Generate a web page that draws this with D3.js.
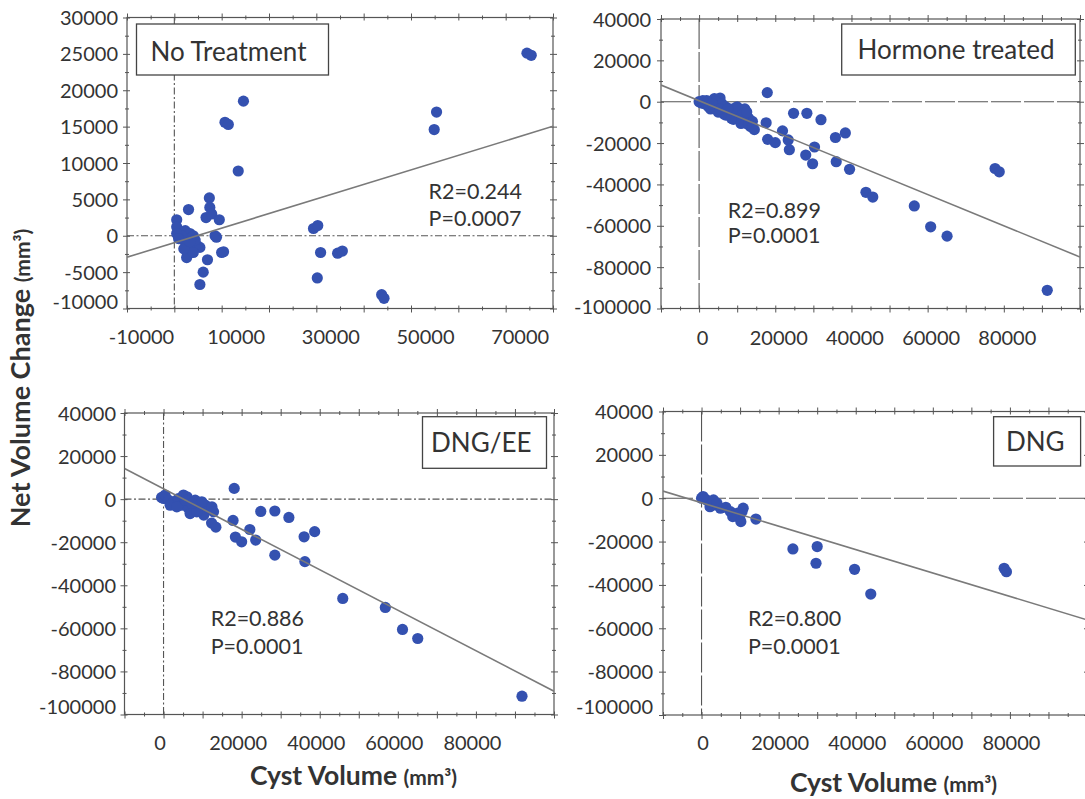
<!DOCTYPE html>
<html><head><meta charset="utf-8">
<script src="https://cdn.jsdelivr.net/npm/d3@7"></script>
<style>
body{margin:0;background:#fff}
svg{display:block}
text{font-family:Lato,"Open Sans",sans-serif;fill:#333}
</style>
</head><body>
<svg id="c" width="1085" height="799"></svg>
<script>
// ---------------- data ----------------
const panelTitles = ["No Treatment", "Hormone treated", "DNG/EE", "DNG"];
const statR2 = ["R2=0.244", "R2=0.899", "R2=0.886", "R2=0.800"];
const statP  = ["P=0.0007", "P=0.0001", "P=0.0001", "P=0.0001"];
const xDomains = [[-10000, 80000], [-10000, 100000], [-10000, 100000], [-10000, 100000]];
const yDomains = [[-10000, 30000], [-100000, 40000], [-100000, 40000], [-100000, 40000]];
const xTickLabelsNoTreat = [-10000, 10000, 30000, 50000, 70000];
const xTickLabels = [0, 20000, 40000, 60000, 80000];
const yTickLabelsNoTreat = [30000, 25000, 20000, 15000, 10000, 5000, 0, -5000, -10000];
const yTickLabels = [40000, 20000, 0, -20000, -40000, -60000, -80000, -100000];
const fitSlopes = [0.2, -0.756, -0.94, -0.54];
const fitIntercepts = [-950, 500, 4800, -2100];

const noTreatment = [
  [14600,18500],[10700,15600],[11400,15300],[13500,8900],[7400,5200],[7500,3900],
  [6700,2500],[7900,3000],[9500,2200],[3000,3600],[500,2200],[8600,0],[8900,-200],
  [10000,-2300],[10400,-2200],[7000,-3300],[6100,-5000],[5400,-6700],
  [500,1200],[1200,300],[2300,700],[3300,300],[4000,0],[1900,-600],[2600,-1100],
  [3700,-1600],[4700,-1300],[5400,-1600],[3000,-2500],[2600,-3000],[4000,-2300],
  [1600,0],[500,300],[900,-400],[4400,-600],[2000,-1800],[3300,-800],
  [74500,25100],[75400,24800],[55400,17000],[54900,14600],[29400,1000],[30300,1400],
  [30900,-2300],[34500,-2400],[35500,-2100],[30200,-5800],[43800,-8100],[44300,-8600]
];
const hormoneTreated = [
  [0,0],[500,-500],[1000,-800],[1500,-300],[2000,-1500],[2500,-1000],[3000,-2000],
  [3500,500],[4000,1500],[4500,-2500],[5000,-1500],[5500,1800],[6000,-3000],
  [6500,-4000],[7000,-2500],[7500,-5000],[8000,-3500],[8500,-6000],[9000,-4500],
  [9500,-7000],[10000,-5500],[10500,-8000],[11000,-4000],[11500,-9000],[12000,-6500],
  [12500,-10500],[13000,-8000],[13500,-12000],[14000,-9500],[14500,-13500],
  [3000,-3500],[5000,-5000],[7000,-6500],[9000,-8500],[11000,-10500],[2000,500],
  [4500,0],[10000,-2500],[12000,-3500],
  [1000,500],[2500,-2500],[4000,-3000],[6000,-1000],[8000,-5500],[9500,-3000],
  [11500,-6000],[13000,-11000],[6500,-6000],[8500,-8000],[12500,-5000],[14000,-12000],
  [3500,-1000],[5500,-3500],[7500,-3500],
  [17900,4400],[24800,-5600],[28300,-5600],[32000,-8700],[17600,-10200],[18000,-18200],
  [20000,-19800],[21900,-14100],[23400,-18500],[23700,-23200],[28000,-25800],
  [29800,-30000],[30300,-21900],[35800,-17300],[38400,-15100],[36000,-29000],
  [39500,-32700],[43800,-43800],[45600,-46100],[56500,-50400],[60800,-60500],
  [65100,-65000],[77700,-32300],[78800,-33900],[91400,-91200]
];
const dngEE = [
  [-500,800],[0,300],[400,1900],[1300,-500],[2600,-1200],[3800,300],[5100,1900],
  [6000,1100],[4700,-2800],[6400,-4300],[6800,-6700],[7700,-3600],[9000,-2000],
  [9400,-5100],[10300,-7400],[10700,-2800],[11500,-4300],[12400,-3600],[12800,-5900],
  [1700,-2800],[3400,-3600],[8100,-500],[9800,-1200],[5600,-500],[8500,-5900],[7300,-2000],
  [91800,-91500],[65100,-64700],[61200,-60500],[56800,-50300],[45900,-46100],
  [36200,-29000],[36000,-17500],[38700,-15100],[32100,-8500],[24900,-5700],
  [28500,-5500],[28500,-26000],[18100,5000],[17800,-9900],[18400,-17600],
  [20000,-19800],[22100,-14100],[23600,-19000],[12300,-11100],[13400,-13000]
];
const dng = [
  [0,0],[1300,-800],[2700,-1600],[3600,-3100],[2200,-3900],[4900,-4600],[6300,-4200],
  [7500,-6200],[8500,-7700],[9900,-9200],[10500,-6200],[10800,-4600],[9400,-6900],
  [8100,-8500],[10200,-10800],[400,800],[3100,-800],[4000,-2300],
  [14100,-9600],[23700,-23400],[30000,-22300],[29700,-30000],[39700,-32800],
  [43900,-44200],[78500,-32300],[79100,-33900]
];

// ---------------- layout ----------------
const series = [noTreatment, hormoneTreated, dngEE, dng];
const xLabelSets = [xTickLabelsNoTreat, xTickLabels, xTickLabels, xTickLabels];
const yLabelSets = [yTickLabelsNoTreat, yTickLabels, yTickLabels, yTickLabels];
const layout = [
  {x0:127, x1:553, y0:17.5, y1:308.5,
   xMaj:10000, yMaj:5000, xLabDx:14, xLabY:336.7, yLabX:118, botShift:-7,
   box:[136.5,24,192,51], tc:[228.5,51.7], st:[428.6,191.7,218.3], dash:"7,2.5,2,2.5"},
  {x0:661, x1:1080, y0:19, y1:308.5,
   xMaj:10000, yMaj:20000, xLabDx:3, xLabY:337.7, yLabX:651, botShift:-2,
   box:[841.7,24,233.6,51], tc:[956,50], st:[727.7,210,235], dash:"30,3"},
  {x0:124.5, x1:554, y0:413, y1:714.5,
   xMaj:10000, yMaj:20000, xLabDx:-4, xLabY:743.3, yLabX:116, botShift:-8,
   box:[422.5,416.7,124,51.6], tc:[481.3,443.3], st:[210.7,618.3,646.7], dash:"7,2.5,2,2.5"},
  {x0:663, x1:1087, y0:411.5, y1:715,
   xMaj:10000, yMaj:20000, xLabDx:1, xLabY:743, yLabX:653, botShift:-9,
   box:[993.6,416.7,87,49.3], tc:[1035.3,441.7], st:[747.9,618.3,646.7], dash:"30,3"}
];

const svg = d3.select("#c");
const fmt = d => String(d);
const AX = "#555";

function range(a, b, step){ const r=[]; for(let v=a; v<=b+1e-9; v+=step) r.push(v); return r; }

function crossTicks(g, side, scale, vals, outLen, inLen){
  let a1, a2;
  if (side==="bottom"){ a1=d3.axisBottom(scale); a2=d3.axisTop(scale); }
  if (side==="top"){ a1=d3.axisTop(scale); a2=d3.axisBottom(scale); }
  if (side==="left"){ a1=d3.axisLeft(scale); a2=d3.axisRight(scale); }
  if (side==="right"){ a1=d3.axisRight(scale); a2=d3.axisLeft(scale); }
  [[a1,outLen],[a2,inLen]].forEach(([a,len])=>{
    const s = g.append("g").call(a.tickValues(vals).tickSize(len).tickFormat(""));
    s.select(".domain").remove();
    s.selectAll("line").attr("stroke", AX).attr("stroke-width", 1);
  });
}

layout.forEach((L, i) => {
  const x = d3.scaleLinear().domain(xDomains[i]).range([L.x0, L.x1]);
  const y = d3.scaleLinear().domain(yDomains[i]).range([L.y1, L.y0]);
  const g = svg.append("g");
  const clipId = "clip" + i;
  svg.append("clipPath").attr("id", clipId).append("rect")
     .attr("x", L.x0).attr("y", L.y0).attr("width", L.x1 - L.x0).attr("height", L.y1 - L.y0);

  // reference zero lines
  g.append("line").attr("x1", L.x0).attr("x2", L.x1).attr("y1", y(0)).attr("y2", y(0))
   .attr("stroke", "#555").attr("stroke-width", 1.1).attr("stroke-dasharray", L.dash);
  g.append("line").attr("x1", x(0)).attr("x2", x(0)).attr("y1", L.y0).attr("y2", L.y1)
   .attr("stroke", "#555").attr("stroke-width", 1.1).attr("stroke-dasharray", L.dash);

  // frame
  g.append("rect").attr("x", L.x0).attr("y", L.y0).attr("width", L.x1 - L.x0).attr("height", L.y1 - L.y0)
   .attr("fill", "none").attr("stroke", AX).attr("stroke-width", 1.2);

  // ticks on all sides
  const [xa, xb] = xDomains[i], [ya, yb] = yDomains[i];
  const xMajor = range(xa, xb, L.xMaj), xMinor = range(xa + L.xMaj/2, xb, L.xMaj);
  const yMajor = range(ya, yb, L.yMaj), yMinor = range(ya + L.yMaj/2, yb, L.yMaj);
  const gb = g.append("g").attr("transform", `translate(0,${L.y1})`);
  crossTicks(gb, "bottom", x, xMajor, 4, 3); crossTicks(gb, "bottom", x, xMinor, 2, 2);
  const gt = g.append("g").attr("transform", `translate(0,${L.y0})`);
  crossTicks(gt, "top", x, xMajor, 4, 3); crossTicks(gt, "top", x, xMinor, 2, 2);
  const gl = g.append("g").attr("transform", `translate(${L.x0},0)`);
  crossTicks(gl, "left", y, yMajor, 4, 3); crossTicks(gl, "left", y, yMinor, 2, 2);
  const gr = g.append("g").attr("transform", `translate(${L.x1},0)`);
  crossTicks(gr, "right", y, yMajor, 4, 3); crossTicks(gr, "right", y, yMinor, 2, 2);

  // tick labels
  const xl = g.append("g").attr("transform", `translate(0,${L.y1})`)
    .call(d3.axisBottom(x).tickValues(xLabelSets[i]).tickSize(0).tickFormat(fmt));
  xl.select(".domain").remove();
  xl.selectAll("text").attr("y", L.xLabY - L.y1).attr("dy", "0.35em").attr("x", L.xLabDx)
    .style("font-size", "20px").style("font-family", "Lato").attr("fill", "#333");
  const yl = g.append("g").attr("transform", `translate(${L.x0},0)`)
    .call(d3.axisLeft(y).tickValues(yLabelSets[i]).tickSize(0).tickFormat(fmt));
  yl.select(".domain").remove();
  yl.selectAll("text").attr("x", L.yLabX - L.x0).attr("dy", "0.35em")
    .attr("y", d => d === ya ? L.botShift : 0)
    .style("font-size", "20px").style("font-family", "Lato").attr("fill", "#333");

  // points
  g.append("g").attr("clip-path", `url(#${clipId})`).selectAll("circle").data(series[i]).join("circle")
   .attr("cx", d => x(d[0])).attr("cy", d => y(d[1])).attr("r", 5.6).attr("fill", "#3451b0");

  // regression line
  const line = d3.line().x(d => x(d)).y(d => y(fitIntercepts[i] + fitSlopes[i] * d));
  g.append("path").attr("clip-path", `url(#${clipId})`).datum(xDomains[i]).attr("d", line)
   .attr("fill", "none").attr("stroke", "#7a7a7a").attr("stroke-width", 1.6);

  // title box
  g.append("rect").attr("x", L.box[0]).attr("y", L.box[1]).attr("width", L.box[2]).attr("height", L.box[3])
   .attr("fill", "#fff").attr("stroke", "#444").attr("stroke-width", 1.3);
  g.append("text").attr("x", L.tc[0]).attr("y", L.tc[1]).attr("dy", "0.35em").attr("text-anchor", "middle")
   .style("font-size", "26px").attr("fill", "#222").text(panelTitles[i]);

  // stats
  g.append("text").attr("x", L.st[0]).attr("y", L.st[1]).attr("dy", "0.35em")
   .style("font-size", "21.5px").attr("fill", "#3a3a3a").text(statR2[i]);
  g.append("text").attr("x", L.st[0]).attr("y", L.st[2]).attr("dy", "0.35em")
   .style("font-size", "21.5px").attr("fill", "#3a3a3a").text(statP[i]);
});

// axis titles
function title(x0, y0, rot){
  return svg.append("text").attr("text-anchor", "middle").attr("dy", "0.35em")
    .attr("transform", `translate(${x0},${y0}) rotate(${rot})`)
    .style("font-weight", "bold").attr("fill", "#222");
}
const yt = title(24, 378, -90);
yt.append("tspan").style("font-size", "27px").text("Net Volume Change ");
yt.append("tspan").style("font-size", "21px").text("(mm³)");
[[353.5, 779], [893.5, 786]].forEach(([cx, cy]) => {
  const t = title(cx, cy, 0);
  t.append("tspan").style("font-size", "26.5px").text("Cyst Volume ");
  t.append("tspan").style("font-size", "21px").text("(mm³)");
});
</script>
</body></html>
